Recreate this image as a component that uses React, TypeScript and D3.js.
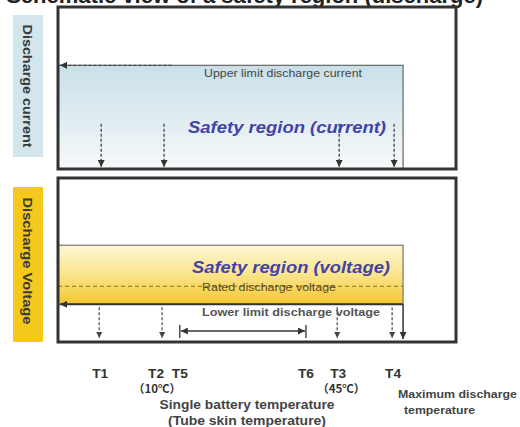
import React from "react";
import * as d3 from "d3";

// ---- data ----
const titleText = "Schematic view of a safety region (discharge)";
const panelTitles = ["Discharge current", "Discharge Voltage"];
const tempLabels = ["T1", "T2", "T5", "T6", "T3", "T4"];
const tempPos = [10.6, 26.4, 30.6, 62.3, 70.4, 84.2]; // relative temperature position (0–100)
const tempNotes = ["", "（10℃）", "", "", "（45℃）", ""];
const dashedMarkers = ["T1", "T2", "T3", "T4"];
const rangeMarkers = ["T5", "T6"];
const maxDischargePos = 86.7;
const currentUpper = 64; // relative current level
const currentArrowTop = 28;
const voltageTop = 59;
const voltageRated = 34;
const voltageLower = 23;
const axisTitle = ["Single battery temperature", "(Tube skin temperature)"];
const maxTempTitle = ["Maximum discharge", "temperature"];

const W = 520, H = 427;
const FONT = "'Liberation Sans', Arial, sans-serif";
const CJK = "'Noto Sans CJK SC', 'Liberation Sans', sans-serif";

export default function App() {
  const x = d3.scaleLinear().domain([0, 100]).range([58, 456]);
  const yC = d3.scaleLinear().domain([0, 100]).range([169, 7]);
  const yV = d3.scaleLinear().domain([0, 100]).range([342, 178]);
  const pos = (t: string) => x(tempPos[tempLabels.indexOf(t)]);
  const xMax = x(maxDischargePos);
  const dark = "#333";

  return (
    <svg width={W} height={H} style={{ position: "absolute", left: 0, top: 0, background: "#fff" }} fontFamily={FONT}>
      <defs>
        <linearGradient id="gC" x1="0" y1="0" x2="0" y2="1">
          <stop offset="0" stopColor="#c9dfe8" />
          <stop offset="1" stopColor="#f6f9fa" />
        </linearGradient>
        <linearGradient id="gV" x1="0" y1="0" x2="0" y2="1">
          <stop offset="0" stopColor="#fdf6d6" />
          <stop offset="0.5" stopColor="#fae48a" />
          <stop offset="1" stopColor="#f4c72e" />
        </linearGradient>
        <marker id="ah" viewBox="0 0 10 10" refX="10" refY="5" markerWidth="7" markerHeight="7" markerUnits="userSpaceOnUse" orient="auto">
          <path d="M0,0 L10,5 L0,10 Z" fill={dark} />
        </marker>
        <marker id="ahs" viewBox="0 0 10 10" refX="10" refY="5" markerWidth="6" markerHeight="6" markerUnits="userSpaceOnUse" orient="auto">
          <path d="M0,0 L10,5 L0,10 Z" fill="#444" />
        </marker>
      </defs>

      {/* title (cropped at the top, as in the source image) */}
      <text x={483} y={3} textAnchor="end" fontSize={22} fontWeight="bold" fill="#222">{titleText}</text>

      {/* side labels */}
      <rect x={13} y={15} width={30} height={142} fill="#d3e6ed" />
      <rect x={13} y={187} width={30} height={155} fill="#f5c81c" />
      {panelTitles.map((t, i) => {
        const cy = i === 0 ? 86 : 261;
        return (
          <text key={t} transform={`translate(23,${cy}) rotate(90)`} textAnchor="middle" fontSize={13} fontWeight="bold" fill="#3a3a3a"
            textLength={i === 0 ? 123 : 127} lengthAdjust="spacingAndGlyphs">{t}</text>
        );
      })}

      {/* current panel */}
      <rect x={x(0)} y={yC(currentUpper)} width={xMax - x(0)} height={yC(0) - yC(currentUpper)} fill="url(#gC)" stroke="#666" strokeWidth={1.2} />
      <line x1={x(28.5)} x2={x(0) + 2} y1={yC(currentUpper)} y2={yC(currentUpper)} stroke="#444" strokeWidth={1.3} strokeDasharray="3,2" markerEnd="url(#ah)" />
      <text x={204} y={yC(currentUpper) + 12} fontSize={10.5} fill="#444" textLength={158} lengthAdjust="spacingAndGlyphs">Upper limit discharge current</text>
      <text x={188} y={133} fontSize={16} fontWeight="bold" fontStyle="italic" fill="#4343a6" textLength={198} lengthAdjust="spacingAndGlyphs">Safety region (current)</text>
      {dashedMarkers.map((t) => (
        <line key={"c" + t} x1={pos(t) + 1} x2={pos(t) + 1} y1={yC(currentArrowTop)} y2={yC(0) - 2} stroke="#444" strokeWidth={1.3} strokeDasharray="3,2" markerEnd="url(#ah)" />
      ))}
      <rect x={x(0)} y={yC(100)} width={x(100) - x(0)} height={yC(0) - yC(100)} fill="none" stroke={dark} strokeWidth={3} />

      {/* voltage panel */}
      <rect x={x(0)} y={yV(voltageTop)} width={xMax - x(0)} height={yV(voltageLower) - yV(voltageTop)} fill="url(#gV)" stroke="#777" strokeWidth={1.2} />
      <text x={192} y={273} fontSize={16} fontWeight="bold" fontStyle="italic" fill="#4343a6" textLength={198} lengthAdjust="spacingAndGlyphs">Safety region (voltage)</text>
      <line x1={x(0)} x2={xMax} y1={yV(voltageRated)} y2={yV(voltageRated)} stroke="#8a6a20" strokeWidth={1} strokeDasharray="4,3" />
      <text x={202} y={yV(voltageRated) + 5} fontSize={10} fill="#5a4a2a" textLength={134} lengthAdjust="spacingAndGlyphs">Rated discharge voltage</text>
      <line x1={xMax} x2={x(0) + 2} y1={yV(voltageLower)} y2={yV(voltageLower)} stroke={dark} strokeWidth={2} markerEnd="url(#ah)" />
      <text x={202} y={316} fontSize={10.5} fontWeight="bold" fill="#555" textLength={178} lengthAdjust="spacingAndGlyphs">Lower limit  discharge voltage</text>
      {dashedMarkers.map((t) => (
        <line key={"v" + t} x1={pos(t) - 1} x2={pos(t) - 1} y1={yV(voltageLower) + 3} y2={yV(0) - 4} stroke="#555" strokeWidth={1.3} strokeDasharray="3,2" markerEnd="url(#ahs)" />
      ))}
      <line x1={xMax} x2={xMax} y1={yV(voltageLower)} y2={yV(0) - 3} stroke={dark} strokeWidth={1.5} markerEnd="url(#ah)" />
      {/* T5–T6 range */}
      <line x1={pos(rangeMarkers[0])} x2={pos(rangeMarkers[0])} y1={325} y2={338} stroke={dark} strokeWidth={1.3} />
      <line x1={pos(rangeMarkers[1])} x2={pos(rangeMarkers[1])} y1={325} y2={338} stroke={dark} strokeWidth={1.3} />
      <line x1={(pos(rangeMarkers[0]) + pos(rangeMarkers[1])) / 2} x2={pos(rangeMarkers[0]) + 1} y1={331} y2={331} stroke={dark} strokeWidth={1.3} markerEnd="url(#ah)" />
      <line x1={(pos(rangeMarkers[0]) + pos(rangeMarkers[1])) / 2} x2={pos(rangeMarkers[1]) - 1} y1={331} y2={331} stroke={dark} strokeWidth={1.3} markerEnd="url(#ah)" />
      <rect x={x(0)} y={yV(100)} width={x(100) - x(0)} height={yV(0) - yV(100)} fill="none" stroke={dark} strokeWidth={3} />

      {/* temperature labels */}
      {tempLabels.map((t, i) => (
        <g key={t}>
          <text x={t === "T2" ? pos(t) + 1 : pos(t)} y={378} textAnchor={t === "T2" ? "end" : "middle"} fontSize={13} fontWeight="bold" fill={dark}
            textLength={16} lengthAdjust="spacingAndGlyphs">{t}</text>
          {tempNotes[i] && (
            <text x={t === "T2" ? pos(t) - 6 : pos(t) + 3} y={393} textAnchor="middle" fontSize={11.5} fontWeight="bold" fill={dark}
              fontFamily={CJK}>{tempNotes[i]}</text>
          )}
        </g>
      ))}
      {axisTitle.map((s, i) => (
        <text key={s} x={247} y={409 + i * 16} textAnchor="middle" fontSize={12.5} fontWeight="bold" fill="#444"
          textLength={i === 0 ? 175 : 158} lengthAdjust="spacingAndGlyphs">{s}</text>
      ))}
      {maxTempTitle.map((s, i) => (
        <text key={s} x={i === 0 ? 398 : 404} y={398 + i * 16} fontSize={11} fontWeight="bold" fill="#444"
          textLength={i === 0 ? 119 : 71} lengthAdjust="spacingAndGlyphs">{s}</text>
      ))}
    </svg>
  );
}
